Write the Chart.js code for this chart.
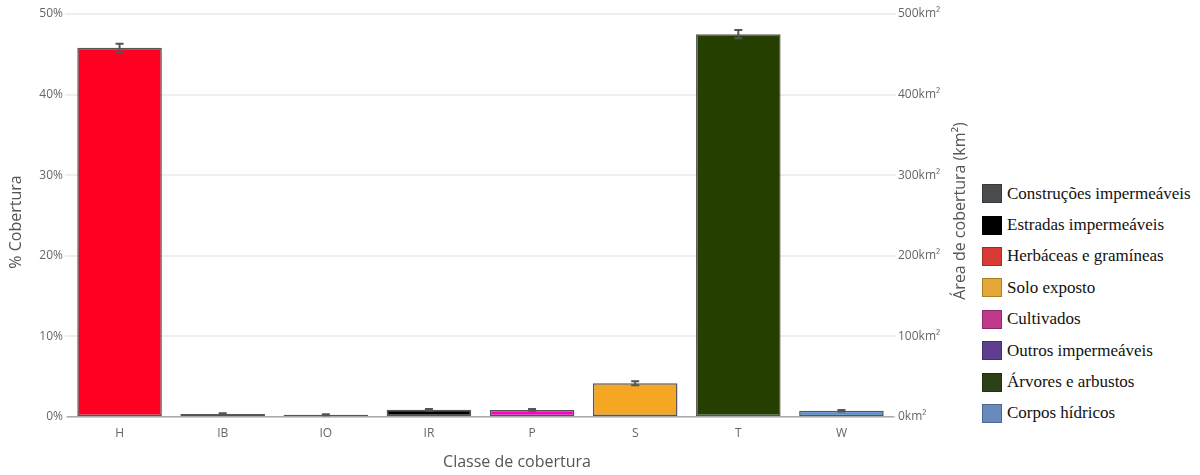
<!DOCTYPE html>
<html>
<head>
<meta charset="utf-8">
<script src="https://cdn.jsdelivr.net/npm/chart.js@4"></script>
<style>
  body { margin: 0; background: #fff; }
  #wrap { position: relative; width: 1200px; height: 475px; }
  #chartBox { position: absolute; left: 0; top: 0; width: 975px; height: 475px; }
  #legend { position: absolute; left: 982px; top: 178px; font-family: "Liberation Serif", serif; font-size: 17px; color: #111; }
  .item { height: 31.4px; display: flex; align-items: center; }
  .sw { width: 20px; height: 19px; margin-right: 5px; box-sizing: border-box; border: 1px solid rgba(0,0,0,0.25); }
</style>
</head>
<body>
<div id="wrap">
  <div id="chartBox"><canvas id="myChart"></canvas></div>
  <div id="legend"></div>
</div>
<script>
var classes = ['H', 'IB', 'IO', 'IR', 'P', 'S', 'T', 'W'];
var coverage = [45.8, 0.38, 0.28, 0.9, 0.88, 4.2, 47.5, 0.78];
var coverageErr = [0.5, 0.08, 0.05, 0.1, 0.1, 0.25, 0.5, 0.1];
var barColors = ['#ff0022', '#555555', '#555555', '#000000', '#ff00cc', '#f5a623', '#243f00', '#4a90e2'];

var pctTicks = [0, 10, 20, 30, 40, 50];
var areaTicks = [0, 100, 200, 300, 400, 500];

var legendNames = ['Construções impermeáveis', 'Estradas impermeáveis', 'Herbáceas e gramíneas', 'Solo exposto',
    'Cultivados', 'Outros impermeáveis', 'Árvores e arbustos', 'Corpos hídricos'];
var legendColors = ['#4a4d4f', '#000000', '#d83a34', '#e3a73a', '#c0398a', '#5e3f8f', '#2b4219', '#6789bc'];

// legend (separate block, like the original figure)
var legendDiv = document.getElementById('legend');
legendNames.forEach(function (name, i) {
    var row = document.createElement('div');
    row.className = 'item';
    row.innerHTML = '<span class="sw" style="background:' + legendColors[i] + '"></span><span>' + name + '</span>';
    legendDiv.appendChild(row);
});

// error bars plugin
var errorBars = {
    id: 'errorBars',
    afterDatasetsDraw: function (chart) {
        var ctx = chart.ctx;
        var meta = chart.getDatasetMeta(0);
        var y = chart.scales.y;
        ctx.save();
        ctx.strokeStyle = '#555';
        ctx.lineWidth = 2;
        meta.data.forEach(function (bar, i) {
            var top = y.getPixelForValue(coverage[i] + coverageErr[i]);
            var bot = y.getPixelForValue(coverage[i] - coverageErr[i]);
            ctx.beginPath();
            ctx.moveTo(bar.x, top); ctx.lineTo(bar.x, bot);
            ctx.moveTo(bar.x - 4, top); ctx.lineTo(bar.x + 4, top);
            ctx.moveTo(bar.x - 4, bot); ctx.lineTo(bar.x + 4, bot);
            ctx.stroke();
        });
        ctx.restore();
    }
};

// axis titles, placed like the original figure
var axisTitles = {
    id: 'axisTitles',
    afterDraw: function (chart) {
        var ctx = chart.ctx;
        ctx.save();
        ctx.fillStyle = '#555';
        ctx.font = '16px "Open Sans", sans-serif';
        ctx.textAlign = 'center';
        ctx.textBaseline = 'middle';
        ctx.fillText('Classe de cobertura', 517, 462);

        ctx.save();
        ctx.translate(16, 222);
        ctx.rotate(-Math.PI / 2);
        ctx.fillText('% Cobertura', 0, 0);
        ctx.restore();

        ctx.translate(960, 211);
        ctx.rotate(-Math.PI / 2);
        ctx.fillText('Área de cobertura (km²)', 0, 0);
        ctx.restore();
    }
};

var tickFont = { family: '"Open Sans", sans-serif', size: 12 };

const ctx = document.getElementById('myChart').getContext('2d');
const myChart = new Chart(ctx, {
    type: 'bar',
    data: {
        labels: classes,
        datasets: [{
            data: coverage,
            backgroundColor: barColors,
            borderColor: '#555555',
            borderWidth: 1.5,
            borderSkipped: false,
            categoryPercentage: 1,
            barPercentage: 0.82
        }]
    },
    options: {
        responsive: true,
        maintainAspectRatio: false,
        animation: false,
        layout: { padding: { top: 14 } },
        plugins: { legend: { display: false }, tooltip: { enabled: false } },
        scales: {
            x: {
                grid: { display: false },
                border: { color: '#aaa', width: 1.5 },
                ticks: { color: '#666', font: tickFont, padding: 1 },
                afterFit: function (s) { s.height = 58; }
            },
            y: {
                position: 'left',
                min: 0, max: 50,
                afterBuildTicks: function (s) { s.ticks = pctTicks.map(function (v) { return { value: v }; }); },
                grid: { color: '#eeeeee', lineWidth: 2, tickLength: 3, tickColor: '#eeeeee' },
                border: { display: false },
                ticks: { color: '#666', font: tickFont, padding: 2, callback: function (v) { return v + '%'; } },
                afterFit: function (s) { s.width = 68; }
            },
            y1: {
                position: 'right',
                min: 0, max: 500,
                afterBuildTicks: function (s) { s.ticks = areaTicks.map(function (v) { return { value: v }; }); },
                grid: { drawOnChartArea: false, tickLength: 3, tickColor: '#eeeeee', lineWidth: 2 },
                border: { display: false },
                ticks: { color: '#666', font: tickFont, padding: 2, callback: function (v) { return v + 'km²'; } },
                afterFit: function (s) { s.width = 82; }
            }
        }
    },
    plugins: [errorBars, axisTitles]
});
</script>
</body>
</html>
